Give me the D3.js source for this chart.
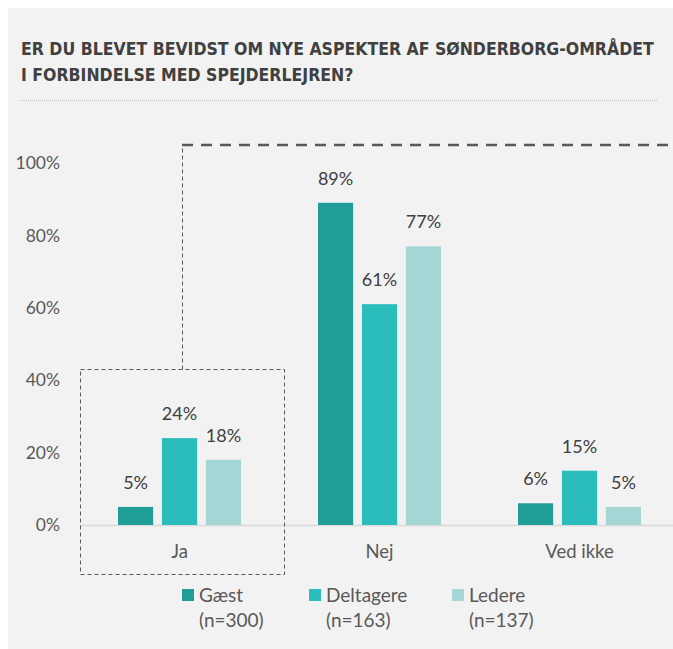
<!DOCTYPE html>
<html><head><meta charset="utf-8">
<script src="https://cdn.jsdelivr.net/npm/d3@7"></script>
<style>
html,body{margin:0;padding:0;background:#fff;}
svg{display:block;}
</style></head>
<body>
<svg id="c" width="673" height="649"></svg>
<script>
const titleLines = ["ER DU BLEVET BEVIDST OM NYE ASPEKTER AF SØNDERBORG-OMRÅDET", "I FORBINDELSE MED SPEJDERLEJREN?"];
const categories = ["Ja", "Nej", "Ved ikke"];
const seriesNames = ["Gæst", "Deltagere", "Ledere"];
const seriesN = ["(n=300)", "(n=163)", "(n=137)"];
const gaest = [5, 89, 6];
const deltagere = [24, 61, 15];
const ledere = [18, 77, 5];
const yTicks = [0, 20, 40, 60, 80, 100];
const colors = ["#209d99", "#2abdbc", "#a4d7d5"];

const values = [gaest, deltagere, ledere];
const font = "Lato, 'Open Sans', sans-serif";
const svg = d3.select("#c");

svg.append("rect").attr("x", 8).attr("y", 8).attr("width", 665).attr("height", 641).attr("fill", "#f2f2f2");

svg.selectAll("text.title").data(titleLines).join("text")
  .attr("class", "title")
  .attr("x", 21).attr("y", (d, i) => 55 + i * 26)
  .attr("font-family", "'Liberation Sans Narrow','DejaVu Sans Condensed',sans-serif")
  .attr("font-weight", "bold").attr("font-size", 17.5).attr("fill", "#404040")
  .text(d => d);

svg.append("line").attr("x1", 20).attr("x2", 657).attr("y1", 100.5).attr("y2", 100.5)
  .attr("stroke", "#bfbfbf").attr("stroke-width", 1).attr("stroke-dasharray", "1,1");

const y = d3.scaleLinear().domain([0, 100]).range([525, 163]);
const x0 = d3.scaleBand().domain(categories).range([79.5, 679.5]);
const x1 = d3.scaleBand().domain(seriesNames).range([38.5, 161.5]).paddingInner(0.2);

// axis tick labels
const yAxis = d3.axisLeft(y).tickValues(yTicks).tickFormat(d => d + "%").tickSize(0).tickPadding(0);
const ya = svg.append("g").attr("transform", "translate(60,0)").call(yAxis);
ya.select(".domain").remove();
ya.selectAll("text").attr("font-family", font).attr("font-size", 17.5).attr("fill", "#595959");

// baseline
svg.append("line").attr("x1", 80).attr("x2", 673).attr("y1", y(0) + 0.5).attr("y2", y(0) + 0.5)
  .attr("stroke", "#d9d9d9").attr("stroke-width", 1.5);

// bars
categories.forEach((c, ci) => {
  const g = svg.append("g").attr("transform", `translate(${x0(c)},0)`);
  seriesNames.forEach((s, si) => {
    const v = values[si][ci];
    g.append("rect").attr("x", x1(s)).attr("width", x1.bandwidth())
      .attr("y", y(v)).attr("height", y(0) - y(v))
      .attr("fill", colors[si]);
    g.append("text").attr("x", x1(s) + x1.bandwidth() / 2).attr("y", y(v) - 18)
      .attr("text-anchor", "middle").attr("font-family", font).attr("font-size", 18)
      .attr("fill", "#404040").text(v + "%");
  });
});

// category labels
const xAxis = d3.axisBottom(x0).tickSize(0).tickPadding(0);
const xa = svg.append("g").attr("transform", "translate(0,545)").call(xAxis);
xa.select(".domain").remove();
xa.selectAll("text").attr("font-family", font).attr("font-size", 18.5).attr("fill", "#595959").attr("dy", "0.7em");

// dashed highlight box and connector
svg.append("rect").attr("x", 80.5).attr("y", 369.5).attr("width", 204).attr("height", 205)
  .attr("fill", "none").attr("stroke", "#595959").attr("stroke-width", 1).attr("stroke-dasharray", "4,3");
svg.append("line").attr("x1", 182.5).attr("x2", 182.5).attr("y1", 369.5).attr("y2", 145)
  .attr("stroke", "#595959").attr("stroke-width", 1).attr("stroke-dasharray", "4,3");
svg.append("line").attr("x1", 182).attr("x2", 673).attr("y1", 145).attr("y2", 145)
  .attr("stroke", "#595959").attr("stroke-width", 2.5).attr("stroke-dasharray", "11,8");

// legend
const legX = [182, 309, 452];
seriesNames.forEach((s, i) => {
  svg.append("rect").attr("x", legX[i]).attr("y", 589).attr("width", 12).attr("height", 12).attr("fill", colors[i]);
  svg.append("text").attr("x", legX[i] + 17).attr("y", 602).attr("font-family", font).attr("font-size", 19)
    .attr("fill", "#595959").text(s);
  svg.append("text").attr("x", legX[i] + 17).attr("y", 627).attr("font-family", font).attr("font-size", 19)
    .attr("fill", "#595959").text(seriesN[i]);
});
</script>
</body></html>
